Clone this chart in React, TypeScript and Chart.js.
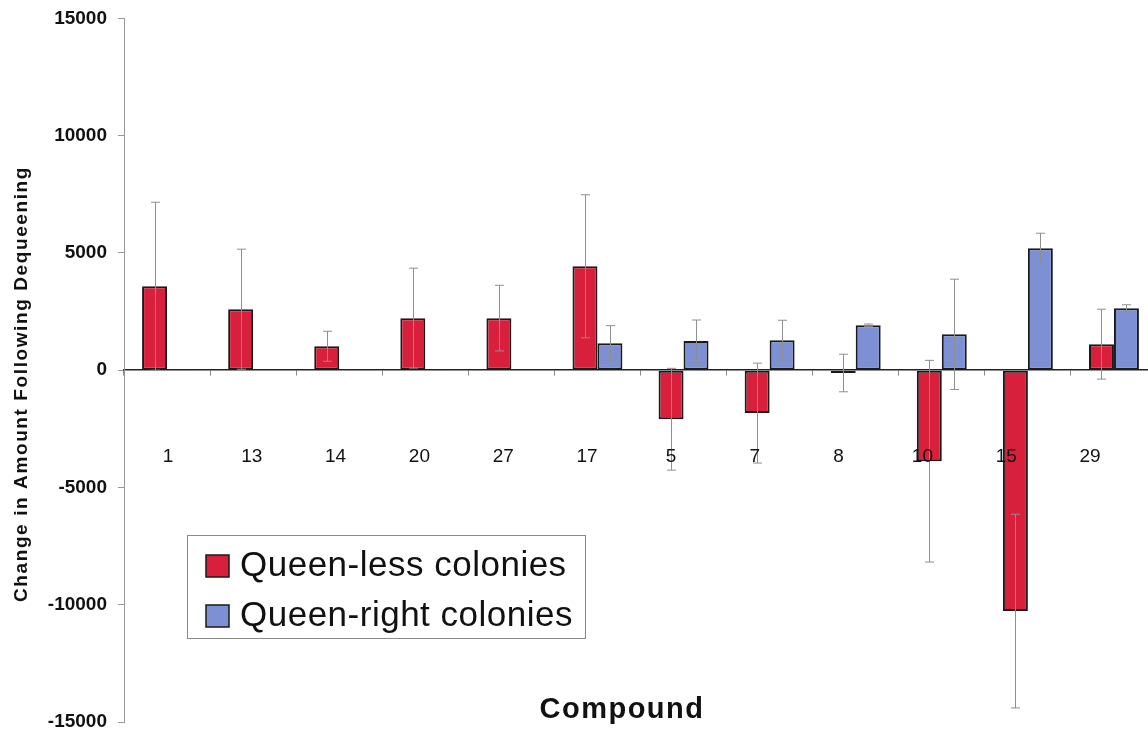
import React, { useEffect, useRef } from "react";
import { Chart, registerables } from "chart.js";

Chart.register(...registerables);

const categories = ["1", "13", "14", "20", "27", "17", "5", "7", "8", "10", "15", "29"];
const seriesLabels = ["Queen-less colonies", "Queen-right colonies"];
const queenLess = [3580, 2600, 1020, 2220, 2220, 4430, -2090, -1830, -120, -3880, -10270, 1110];
const queenLessErr = [3580, 2560, 640, 2130, 1400, 3050, 2170, 2130, 800, 4300, 4130, 1490];
const queenRight = [30, 20, 20, 30, 20, 1150, 1240, 1280, 1920, 1530, 5200, 2640];
const queenRightErr = [0, 0, 0, 0, 0, 750, 900, 850, 50, 2350, 640, 150];
const yMin = -15000;
const yMax = 15000;
const yStep = 5000;
const categoryLabelLevel = -3200;
const xTitle = "Compound";
const yTitle = "Change in Amount Following Dequeening";

const RED = "#d8203c";
const BLUE = "#7d90d4";
const FONT = "'Liberation Sans', Arial, sans-serif";
const CW = 1170;
const CH = 760;
const OY = 4; // canvas is shifted up by this much
const LABEL_INSET_LEFT = 2;
const LABEL_INSET_RIGHT = 25;

const labelAxisPlugin = {
  id: "labelAxis",
  afterLayout(chart: any) {
    const s = chart.scales.xLabels;
    const a = chart.chartArea;
    if (!s || !a) return;
    s.left = a.left + LABEL_INSET_LEFT;
    s.right = a.right - LABEL_INSET_RIGHT;
    s.width = s.right - s.left;
    s.configure();
  },
};

const errorBarPlugin = {
  id: "errorBars",
  afterDatasetsDraw(chart: any) {
    const ctx = chart.ctx;
    const yScale = chart.scales.y;
    chart.data.datasets.forEach((ds: any, di: number) => {
      const meta = chart.getDatasetMeta(di);
      meta.data.forEach((bar: any, i: number) => {
        const e = ds.errors[i];
        if (!e) return;
        const v = ds.data[i];
        const yTop = yScale.getPixelForValue(v + e);
        const yBot = yScale.getPixelForValue(v - e);
        const x = Math.round(bar.x) + 0.5;
        ctx.save();
        ctx.strokeStyle = "#8f8f8f";
        ctx.lineWidth = 1;
        ctx.beginPath();
        ctx.moveTo(x, yTop);
        ctx.lineTo(x, yBot);
        ctx.moveTo(x - 4.5, yTop);
        ctx.lineTo(x + 4.5, yTop);
        ctx.moveTo(x - 4.5, yBot);
        ctx.lineTo(x + 4.5, yBot);
        ctx.stroke();
        ctx.restore();
      });
    });
  },
};

const decorPlugin = {
  id: "decor",
  afterDraw(chart: any) {
    const ctx = chart.ctx;
    ctx.save();
    ctx.fillStyle = "#111";
    ctx.translate(22, 384 + OY);
    ctx.rotate(-Math.PI / 2);
    ctx.font = `bold 19px ${FONT}`;
    (ctx as any).letterSpacing = "1.6px";
    ctx.textAlign = "center";
    ctx.textBaseline = "middle";
    ctx.fillText(yTitle, 0, 0);
    ctx.restore();

    ctx.save();
    ctx.fillStyle = "#111";
    ctx.font = `bold 29px ${FONT}`;
    (ctx as any).letterSpacing = "1.5px";
    ctx.textAlign = "center";
    ctx.textBaseline = "alphabetic";
    ctx.fillText(xTitle, 622, 718 + OY);
    ctx.restore();

    ctx.save();
    const lx = 187, ly = 535 + OY, lw = 398, lh = 103;
    ctx.fillStyle = "#fff";
    ctx.fillRect(lx, ly, lw, lh);
    ctx.strokeStyle = "#8a8a8a";
    ctx.lineWidth = 1;
    ctx.strokeRect(lx + 0.5, ly + 0.5, lw, lh);
    const colors = [RED, BLUE];
    seriesLabels.forEach((lab, i) => {
      const cy = 566 + OY + i * 50;
      ctx.fillStyle = colors[i];
      ctx.fillRect(206, cy - 11, 23, 22);
      ctx.strokeStyle = "#1a1a1a";
      ctx.lineWidth = 1.5;
      ctx.strokeRect(206, cy - 11, 23, 22);
      ctx.fillStyle = "#111";
      ctx.font = `35px ${FONT}`;
      (ctx as any).letterSpacing = "0.5px";
      ctx.textAlign = "left";
      ctx.textBaseline = "alphabetic";
      ctx.fillText(lab, 240, cy + 10);
    });
    ctx.restore();
  },
};

export default function App() {
  const canvasRef = useRef<HTMLCanvasElement | null>(null);

  useEffect(() => {
    if (!canvasRef.current) return;
    const chart = new Chart(canvasRef.current, {
      type: "bar",
      data: {
        labels: categories,
        datasets: [
          {
            label: seriesLabels[0],
            data: queenLess,
            errors: queenLessErr,
            backgroundColor: RED,
            borderColor: "#1a1a1a",
            borderWidth: 2,
            borderSkipped: false,
          } as any,
          {
            label: seriesLabels[1],
            data: queenRight,
            errors: queenRightErr,
            backgroundColor: BLUE,
            borderColor: "#1a1a1a",
            borderWidth: 2,
            borderSkipped: false,
          } as any,
        ],
      },
      options: {
        animation: false,
        responsive: false,
        devicePixelRatio: 1,
        datasets: { bar: { categoryPercentage: 0.58, barPercentage: 1.0 } },
        layout: { padding: { top: 22, bottom: CH - 726, left: 0, right: CW - 1157 } },
        plugins: {
          legend: { display: false },
          tooltip: { enabled: false },
          title: { display: false },
        },
        scales: {
          x: {
            position: { y: 0 } as any,
            offset: true,
            afterFit(scale: any) {
              scale.height = 0;
            },
            grid: {
              display: true,
              offset: true,
              drawOnChartArea: false,
              drawTicks: true,
              tickLength: 5,
              color: "#888",
            },
            border: { display: true, color: "#222", width: 1.5 },
            ticks: { display: false },
          },
          xLabels: {
            type: "category",
            axis: "x",
            labels: categories,
            position: { y: categoryLabelLevel } as any,
            offset: true,
            afterFit(scale: any) {
              scale.height = 0;
            },
            grid: { display: false, drawTicks: false, drawOnChartArea: false },
            border: { display: false },
            ticks: {
              z: 2,
              color: "#111",
              font: { family: FONT, size: 19 },
              padding: 0,
              maxRotation: 0,
            },
          },
          y: {
            min: yMin,
            max: yMax,
            afterFit(scale: any) {
              scale.width = 124;
            },
            grid: {
              display: true,
              drawOnChartArea: false,
              drawTicks: true,
              tickLength: 6,
              color: "#999",
            },
            border: { display: true, color: "#999", width: 1 },
            ticks: {
              stepSize: yStep,
              color: "#111",
              padding: 11,
              font: { family: FONT, size: 19, weight: "bold" },
              callback: (v: any) => String(v),
            },
          },
        },
      } as any,
      plugins: [labelAxisPlugin, errorBarPlugin, decorPlugin],
    });
    return () => chart.destroy();
  }, []);

  return (
    <div
      style={{
        position: "fixed",
        left: 0,
        top: 0,
        width: 1148,
        height: 729,
        overflow: "hidden",
        background: "#fff",
      }}
    >
      <canvas
        ref={canvasRef}
        width={CW}
        height={CH}
        style={{ display: "block", width: CW, height: CH, marginTop: -OY }}
      />
    </div>
  );
}
